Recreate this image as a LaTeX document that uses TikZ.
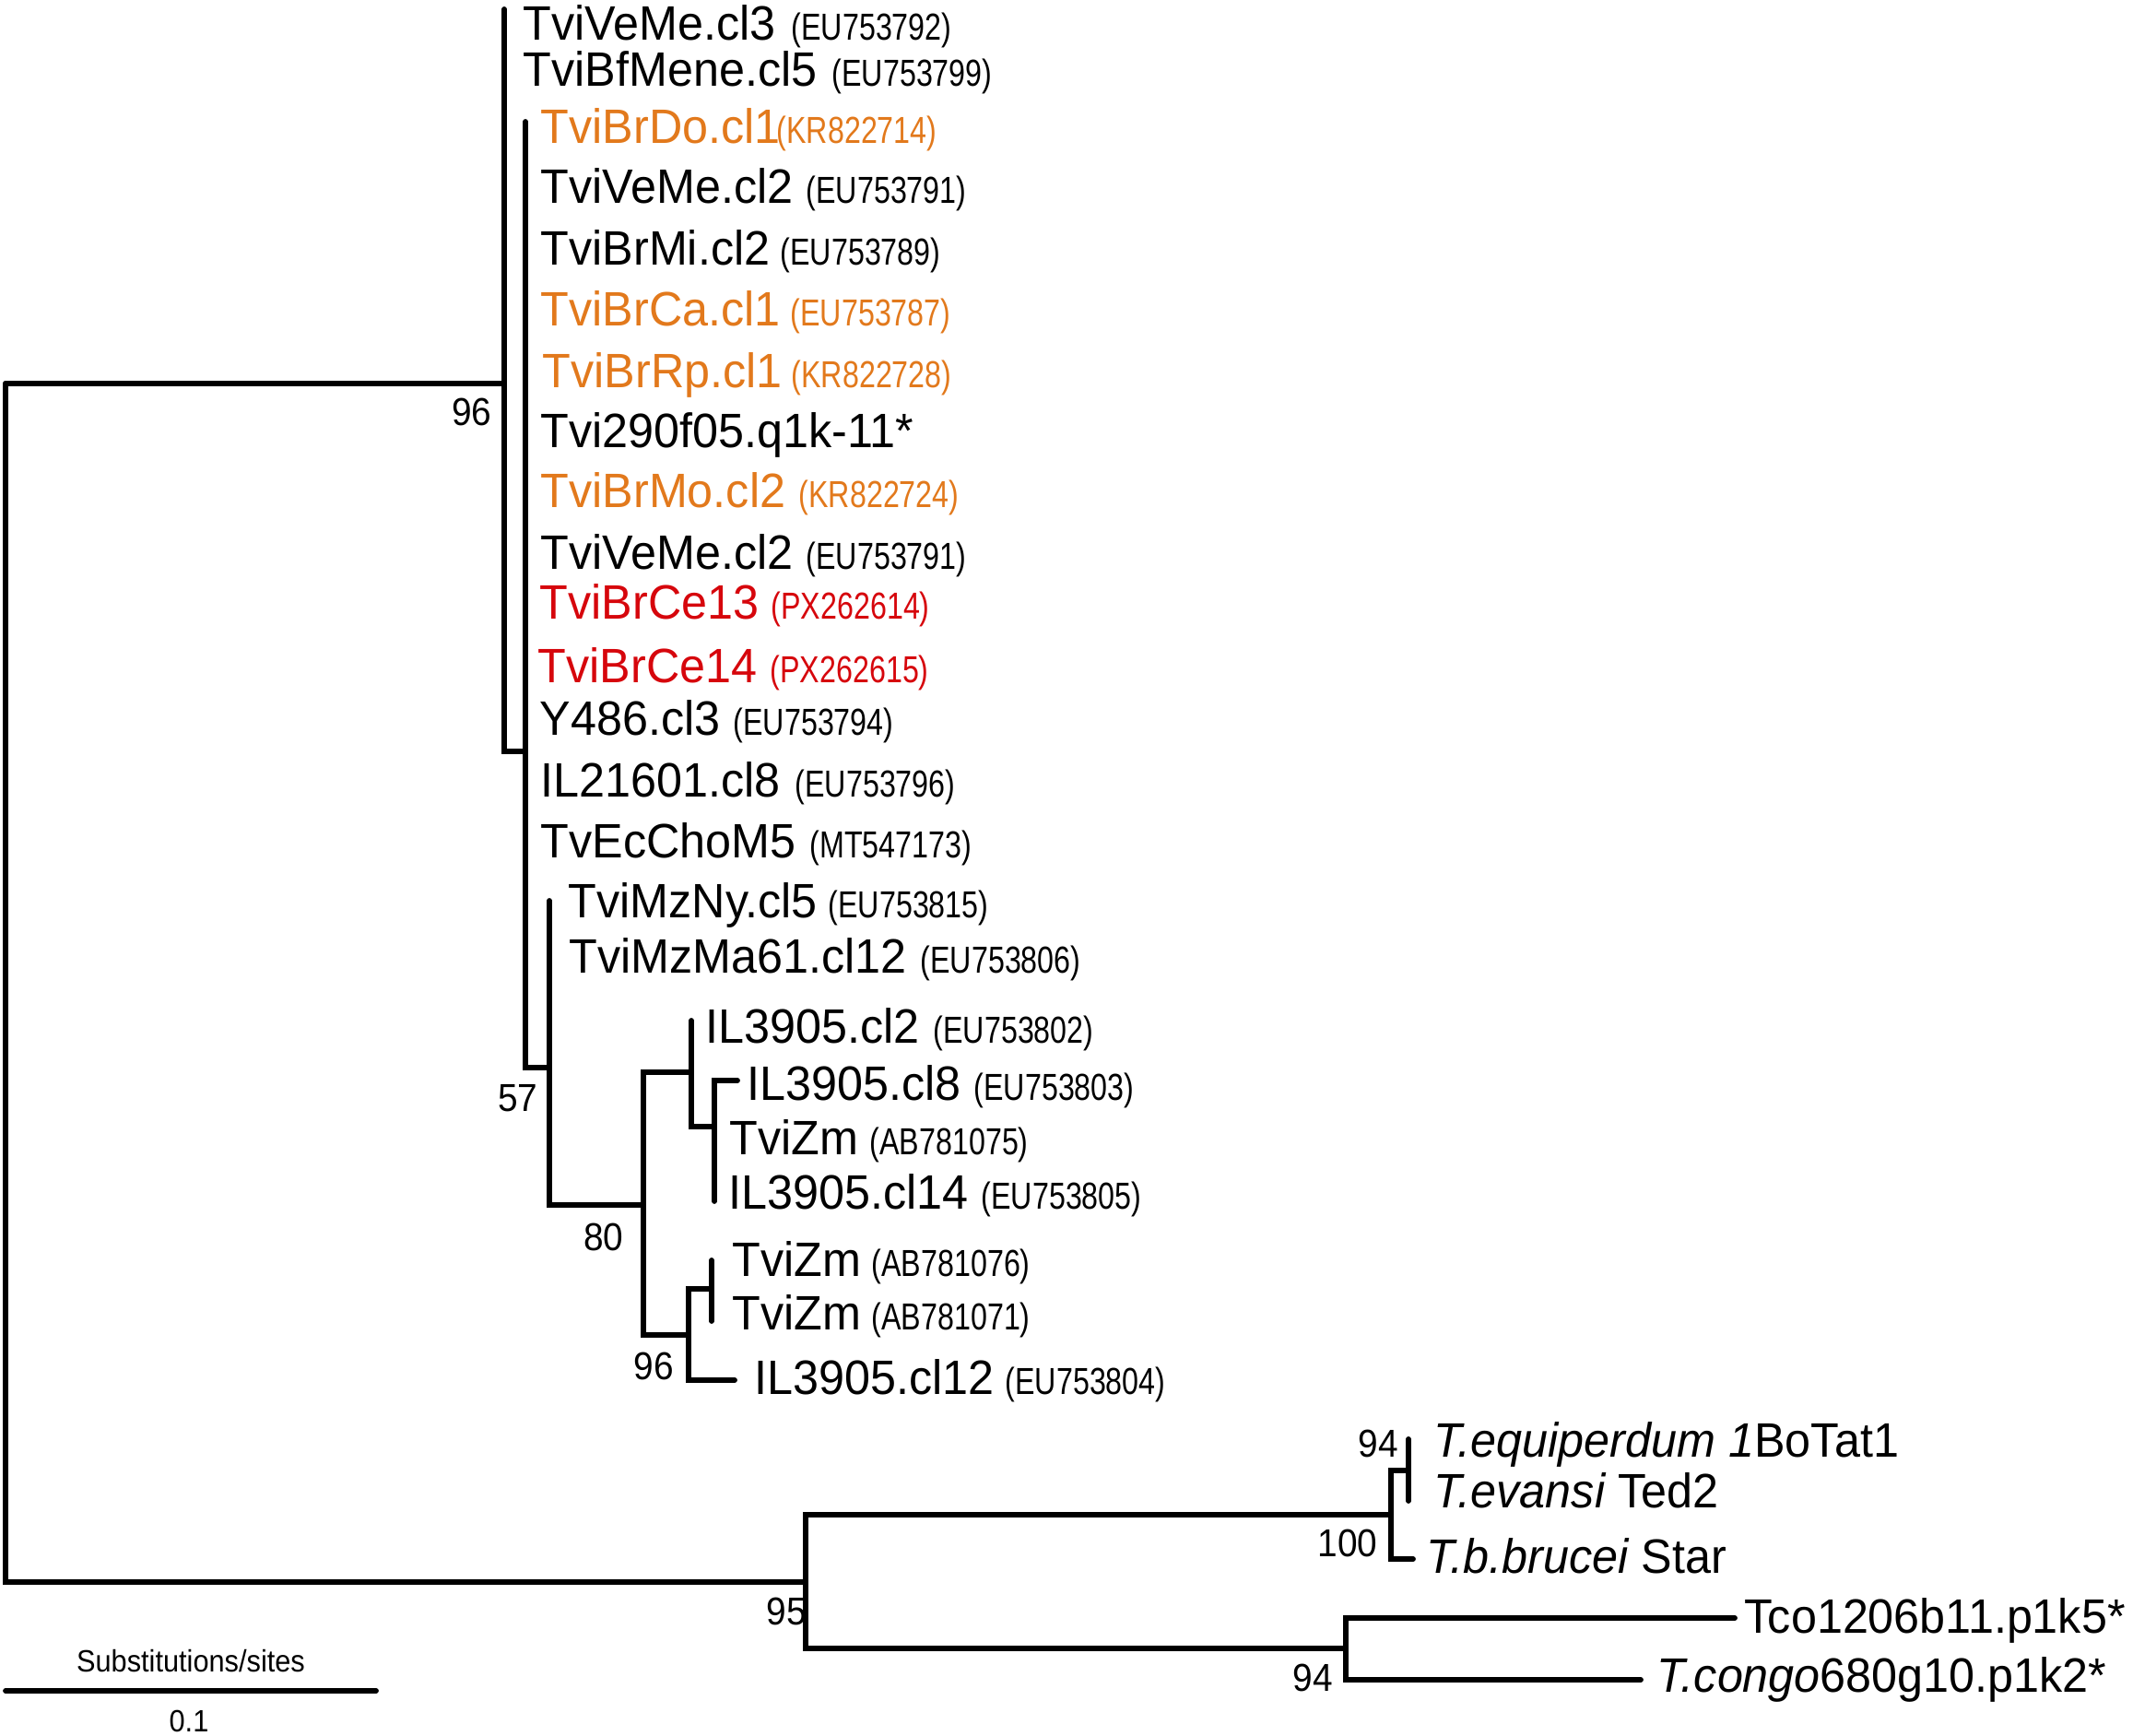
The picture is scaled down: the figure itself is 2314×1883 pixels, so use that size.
\documentclass[tikz,border=0pt]{standalone}
\usepackage{fontspec}
\setmainfont{Liberation Sans}[FakeStretch=0.96]
\newfontfamily\accfont[FakeStretch=0.79]{Liberation Sans}
\newfontfamily\numfont[FakeStretch=0.92]{Liberation Sans}
\usetikzlibrary{positioning}
\definecolor{brorange}{RGB}{226,121,28}
\definecolor{brred}{RGB}{214,6,12}

\tikzset{
  branch/.style={line width=0.058cm, line cap=round, line join=miter},
  tiplbl/.style={anchor=west, inner sep=0pt, text height=0.37cm, text depth=0pt,
    font=\fontsize{14.9}{17}\selectfont},
  acclbl/.style={tiplbl, font=\accfont\fontsize{11.6}{13}\selectfont},
  boot/.style={inner sep=0pt, font=\numfont\fontsize{12}{14}\selectfont},
  barlbl/.style={inner sep=0pt, font=\numfont\fontsize{9.5}{11}\selectfont},
  orng/.style={text=brorange},
  rd/.style={text=brred}
}

\begin{document}
\begin{tikzpicture}[x=0.01cm, y=-0.01cm]
        \useasboundingbox (0,0) rectangle (2314,1883);
        % inner nodes
        \coordinate (root) at (6,416);
        \coordinate (n96) at (547,416);
        \coordinate (nIn) at (570,815);
        \coordinate (n57) at (596,1158);
        \coordinate (n80) at (698,1307);
        \coordinate (nIL) at (750,1163);
        \coordinate (nZa) at (775,1222);
        \coordinate (n96b) at (747,1448);
        \coordinate (nZb) at (772,1398);
        \coordinate (n95) at (874,1716);
        \coordinate (n100) at (1509,1643);
        \coordinate (n94) at (1528,1595);
        \coordinate (n94b) at (1460,1788);
        % branch ends
        \coordinate (tVe3) at (547,10);
        \coordinate (tBrDo) at (570,132);
        \coordinate (tMzNy) at (596,977);
        \coordinate (tIL2) at (750,1107);
        \coordinate (tIL8) at (800,1172);
        \coordinate (tIL14) at (775,1303);
        \coordinate (tZm76) at (772,1367);
        \coordinate (tZm71) at (772,1433);
        \coordinate (tIL12) at (797,1497);
        \coordinate (tEqu) at (1528,1561);
        \coordinate (tEva) at (1528,1628);
        \coordinate (tBru) at (1533,1691);
        \coordinate (tTco) at (1882,1755);
        \coordinate (tCon) at (1780,1822);

        % tree
        \draw[branch] (root) -- (n96);
        \draw[branch] (root) |- (n95);
        \draw[branch] (n96) |- (tVe3);
        \draw[branch] (n96) |- (nIn);
        \draw[branch] (nIn) |- (tBrDo);
        \draw[branch] (nIn) |- (n57);
        \draw[branch] (n57) |- (tMzNy);
        \draw[branch] (n57) |- (n80);
        \draw[branch] (n80) |- (nIL);
        \draw[branch] (n80) |- (n96b);
        \draw[branch] (nIL) |- (tIL2);
        \draw[branch] (nIL) |- (nZa);
        \draw[branch] (nZa) |- (tIL8);
        \draw[branch] (nZa) |- (tIL14);
        \draw[branch] (n96b) |- (nZb);
        \draw[branch] (n96b) |- (tIL12);
        \draw[branch] (nZb) |- (tZm76);
        \draw[branch] (nZb) |- (tZm71);
        \draw[branch] (n95) |- (n100);
        \draw[branch] (n95) |- (n94b);
        \draw[branch] (n100) |- (n94);
        \draw[branch] (n100) |- (tBru);
        \draw[branch] (n94) |- (tEqu);
        \draw[branch] (n94) |- (tEva);
        \draw[branch] (n94b) |- (tTco);
        \draw[branch] (n94b) |- (tCon);

        % taxa
        \node[tiplbl] (l01) at (567,25) {TviVeMe.cl3};
        \node[acclbl] (a01) at (858,25) {(EU753792)};
        \node[tiplbl] (l02) at (567,75) {TviBfMene.cl5};
        \node[acclbl] (a02) at (902,75) {(EU753799)};
        \node[tiplbl, orng] (l03) at (586,137) {TviBrDo.cl1};
        \node[acclbl, orng] (a03) at (842,137) {(KR822714)};
        \node[tiplbl] (l04) at (586,202) {TviVeMe.cl2};
        \node[acclbl] (a04) at (874,202) {(EU753791)};
        \node[tiplbl] (l05) at (586,269) {TviBrMi.cl2};
        \node[acclbl] (a05) at (846,269) {(EU753789)};
        \node[tiplbl, orng] (l06) at (586,335) {TviBrCa.cl1};
        \node[acclbl, orng] (a06) at (857,335) {(EU753787)};
        \node[tiplbl, orng] (l07) at (588,402) {TviBrRp.cl1};
        \node[acclbl, orng] (a07) at (858,402) {(KR822728)};
        \node[tiplbl] (l08) at (586,467) {Tvi290f05.q1k-11*};
        \node[tiplbl, orng] (l09) at (586,532) {TviBrMo.cl2};
        \node[acclbl, orng] (a09) at (866,532) {(KR822724)};
        \node[tiplbl] (l10) at (586,599) {TviVeMe.cl2};
        \node[acclbl] (a10) at (874,599) {(EU753791)};
        \node[tiplbl, rd] (l11) at (585,653) {TviBrCe13};
        \node[acclbl, rd] (a11) at (836,653) {(PX262614)};
        \node[tiplbl, rd] (l12) at (583,722) {TviBrCe14};
        \node[acclbl, rd] (a12) at (835,722) {(PX262615)};
        \node[tiplbl] (l13) at (585,779) {Y486.cl3};
        \node[acclbl] (a13) at (795,779) {(EU753794)};
        \node[tiplbl] (l14) at (586,846) {IL21601.cl8};
        \node[acclbl] (a14) at (862,846) {(EU753796)};
        \node[tiplbl] (l15) at (586,912) {TvEcChoM5};
        \node[acclbl] (a15) at (878,912) {(MT547173)};
        \node[tiplbl] (l16) at (616,977) {TviMzNy.cl5};
        \node[acclbl] (a16) at (898,977) {(EU753815)};
        \node[tiplbl] (l17) at (617,1037) {TviMzMa61.cl12};
        \node[acclbl] (a17) at (998,1037) {(EU753806)};
        \node[tiplbl] (l18) at (765,1113) {IL3905.cl2};
        \node[acclbl] (a18) at (1012,1113) {(EU753802)};
        \node[tiplbl] (l19) at (810,1175) {IL3905.cl8};
        \node[acclbl] (a19) at (1056,1175) {(EU753803)};
        \node[tiplbl] (l20) at (791,1234) {TviZm};
        \node[acclbl] (a20) at (943,1234) {(AB781075)};
        \node[tiplbl] (l21) at (790,1293) {IL3905.cl14};
        \node[acclbl] (a21) at (1064,1293) {(EU753805)};
        \node[tiplbl] (l22) at (794,1366) {TviZm};
        \node[acclbl] (a22) at (945,1366) {(AB781076)};
        \node[tiplbl] (l23) at (794,1424) {TviZm};
        \node[acclbl] (a23) at (945,1424) {(AB781071)};
        \node[tiplbl] (l24) at (818,1494) {IL3905.cl12};
        \node[acclbl] (a24) at (1090,1494) {(EU753804)};
        \node[tiplbl] (l25) at (1555,1562) {\itshape T.equiperdum 1\upshape BoTat1};
        \node[tiplbl] (l26) at (1555,1617) {\itshape T.evansi\upshape\ Ted2};
        \node[tiplbl] (l27) at (1547,1688) {\itshape T.b.brucei\upshape\ Star};
        \node[tiplbl] (l28) at (1892,1753) {Tco1206b11.p1k5*};
        \node[tiplbl] (l29) at (1797,1817) {\itshape T.congo\upshape 680g10.p1k2*};

        % bootstrap values
        \node[boot] (b96) at (512,447) {96};
        \node[boot] (b57) at (562,1191) {57};
        \node[boot] (b80) at (655,1342) {80};
        \node[boot] (b96b) at (709,1482) {96};
        \node[boot] (b95) at (853,1748) {95};
        \node[boot] (b100) at (1462,1674) {100};
        \node[boot] (b94) at (1495,1566) {94};
        \node[boot] (b94b) at (1424,1820) {94};

        % scale bar
        \coordinate (sb1) at (6,1834);
        \coordinate (sb2) at (408,1834);
        \draw[branch] (sb1) -- (sb2);
        \node[barlbl] (sbt) at (207,1802) {Substitutions/sites};
        \node[barlbl] (sbv) at (205,1867) {0.1};
 \end{tikzpicture}
\end{document}
